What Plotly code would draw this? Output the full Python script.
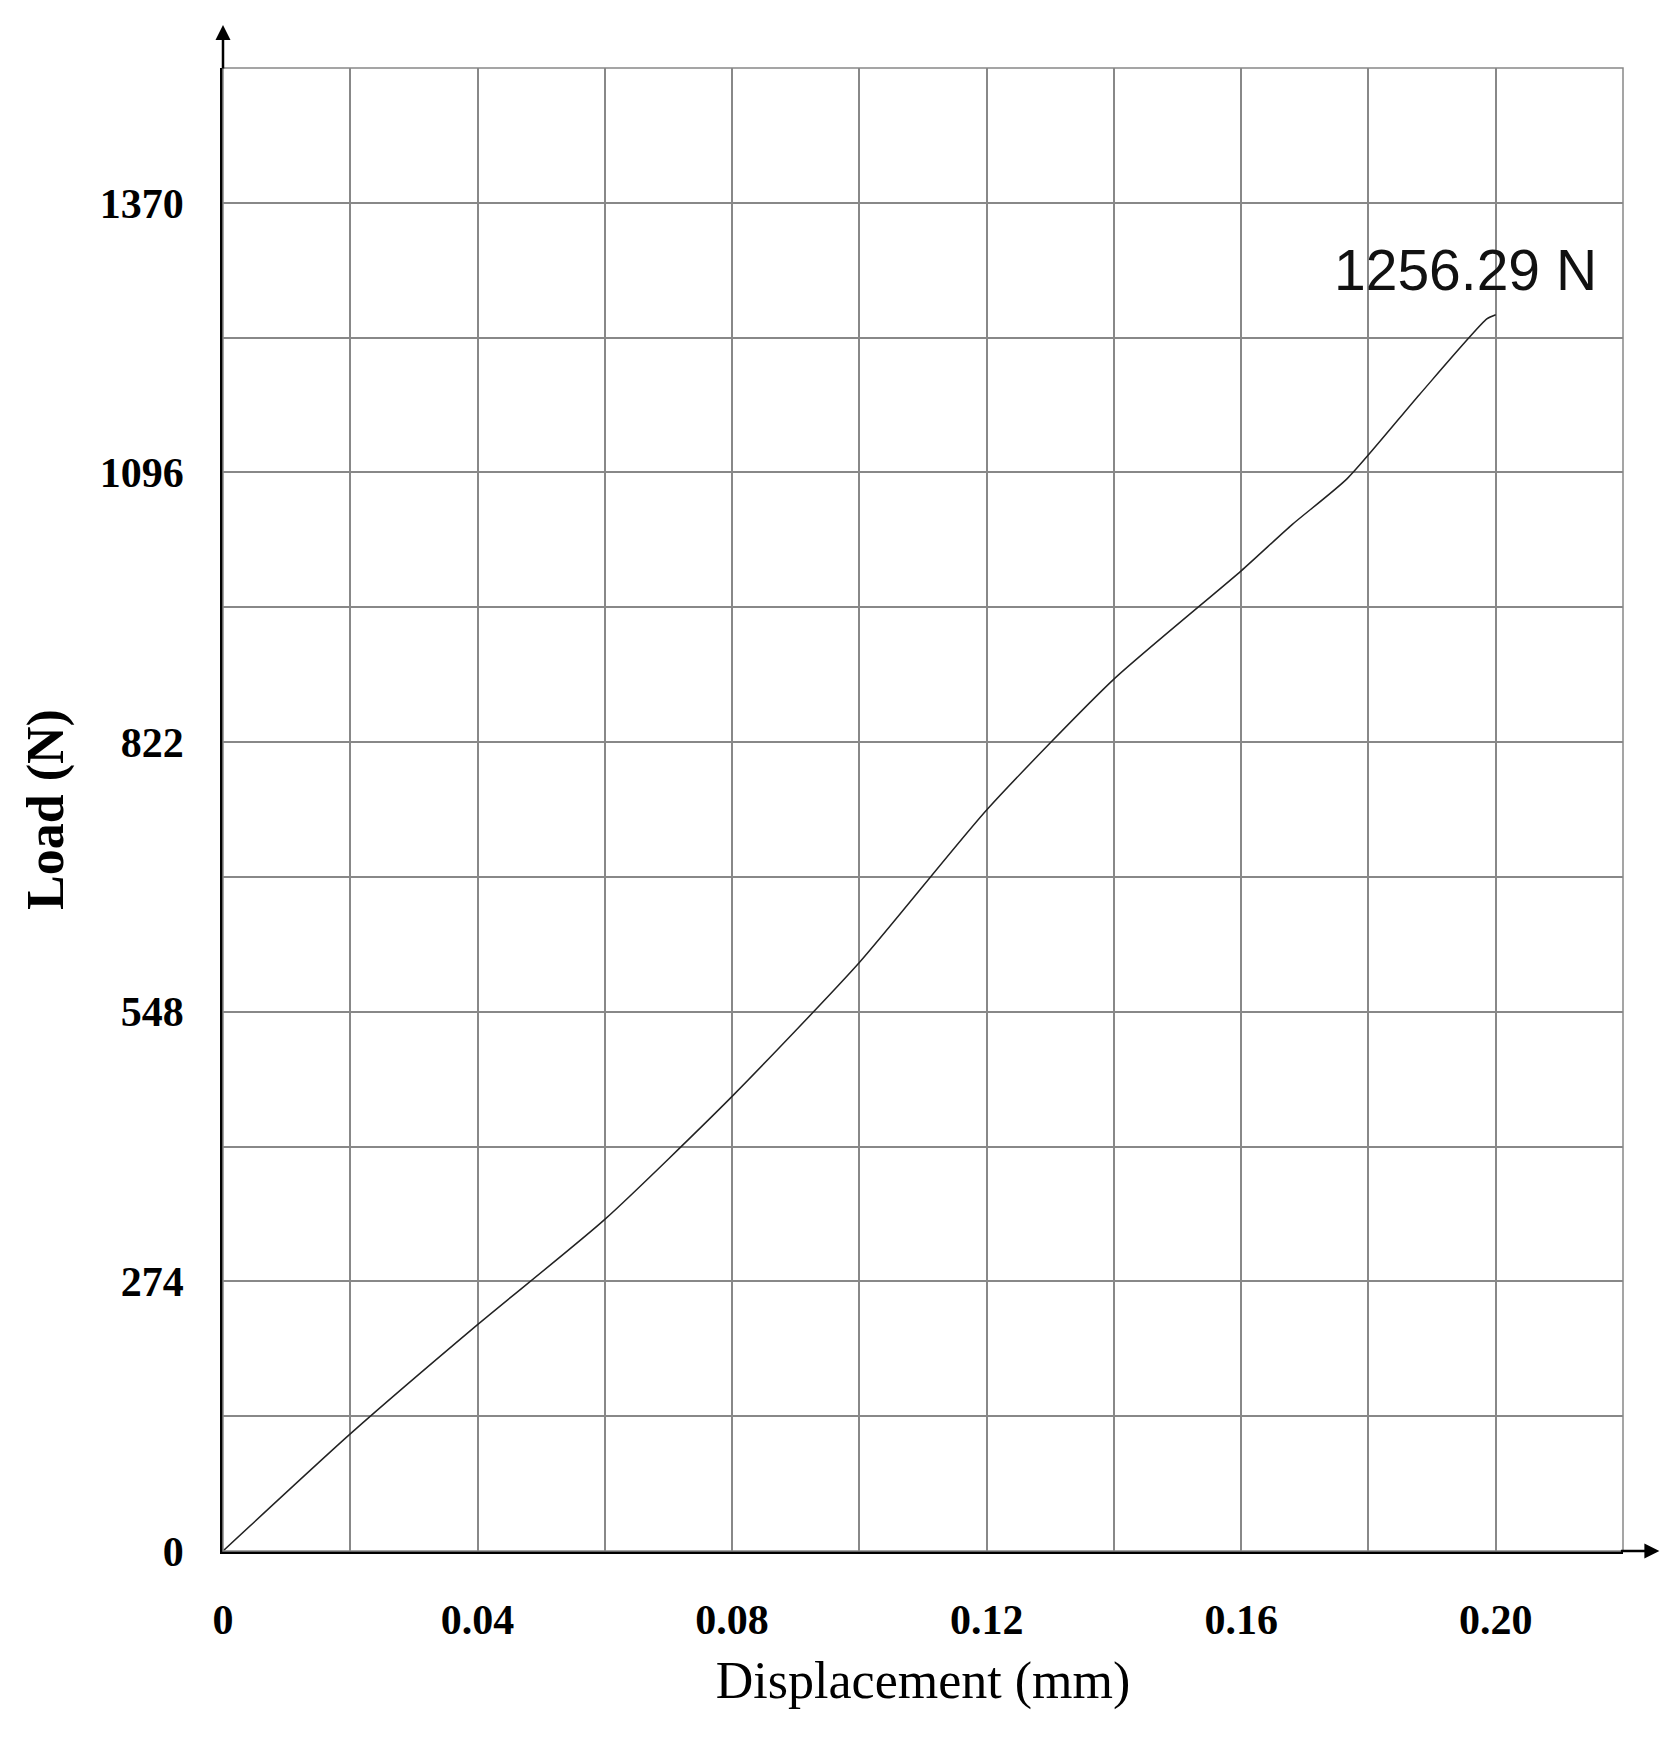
import plotly.graph_objects as go

disp = [0, 0.02, 0.04, 0.06, 0.08, 0.10, 0.12, 0.14, 0.16, 0.168, 0.1767, 0.188, 0.1986, 0.20]
load = [0, 119, 230, 337, 462, 598, 753, 886, 996, 1043, 1090, 1175, 1252, 1256.29]
xticks = [0, 0.04, 0.08, 0.12, 0.16, 0.20]
xlabels = ["0", "0.04", "0.08", "0.12", "0.16", "0.20"]
yticks = [0, 274, 548, 822, 1096, 1370]

fig = go.Figure(go.Scatter(x=disp, y=load, mode="lines", line=dict(color="#222", width=1.5, shape="spline", smoothing=0.6), showlegend=False))
fig.add_annotation(x=0.20, y=1256.29, text="1256.29 N", showarrow=False, yshift=45, xshift=-30,
                   font=dict(family="Liberation Sans", size=57, color="#111"))
# axis arrows
fig.add_annotation(xref="paper", yref="paper", x=0, y=1.029, ax=0, ay=45, showarrow=True,
                   arrowhead=2, arrowsize=1.2, arrowwidth=2.5, arrowcolor="black", text="")
fig.add_annotation(xref="paper", yref="paper", x=1.026, y=0, ax=-40, ay=0, showarrow=True,
                   arrowhead=2, arrowsize=1.2, arrowwidth=2.5, arrowcolor="black", text="")
fig.add_shape(type="rect", xref="paper", yref="paper", x0=0, y0=0, x1=1, y1=1, line=dict(color="#888", width=1.5))

tf = dict(family="Liberation Serif", size=42, color="black", weight="bold")
fig.update_xaxes(range=[0, 0.22], tickvals=xticks, ticktext=xlabels, tickfont=tf,
                 showgrid=True, gridcolor="#888", gridwidth=1.5,
                 minor=dict(dtick=0.02, tick0=0, showgrid=True, gridcolor="#888", gridwidth=1.5),
                 showline=True, linecolor="black", linewidth=2.5, zeroline=False,
                 ticks="", ticklabelstandoff=30,
                 title=dict(text="Displacement (mm)", font=dict(family="Liberation Serif", size=52, color="black"), standoff=20))
fig.update_yaxes(range=[0, 1507], tickvals=yticks, tickfont=tf,
                 showgrid=True, gridcolor="#888", gridwidth=1.5,
                 minor=dict(dtick=137, tick0=0, showgrid=True, gridcolor="#888", gridwidth=1.5),
                 showline=True, linecolor="black", linewidth=2.5, zeroline=False,
                 ticks="", ticklabelstandoff=28,
                 title=dict(text="Load (N)", font=dict(family="Liberation Serif", size=52, color="black", weight="bold"), standoff=20))
fig.update_layout(width=1674, height=1747, margin=dict(l=215, r=59, t=60, b=204),
                  plot_bgcolor="white", paper_bgcolor="white")
fig.write_html("out.html")
